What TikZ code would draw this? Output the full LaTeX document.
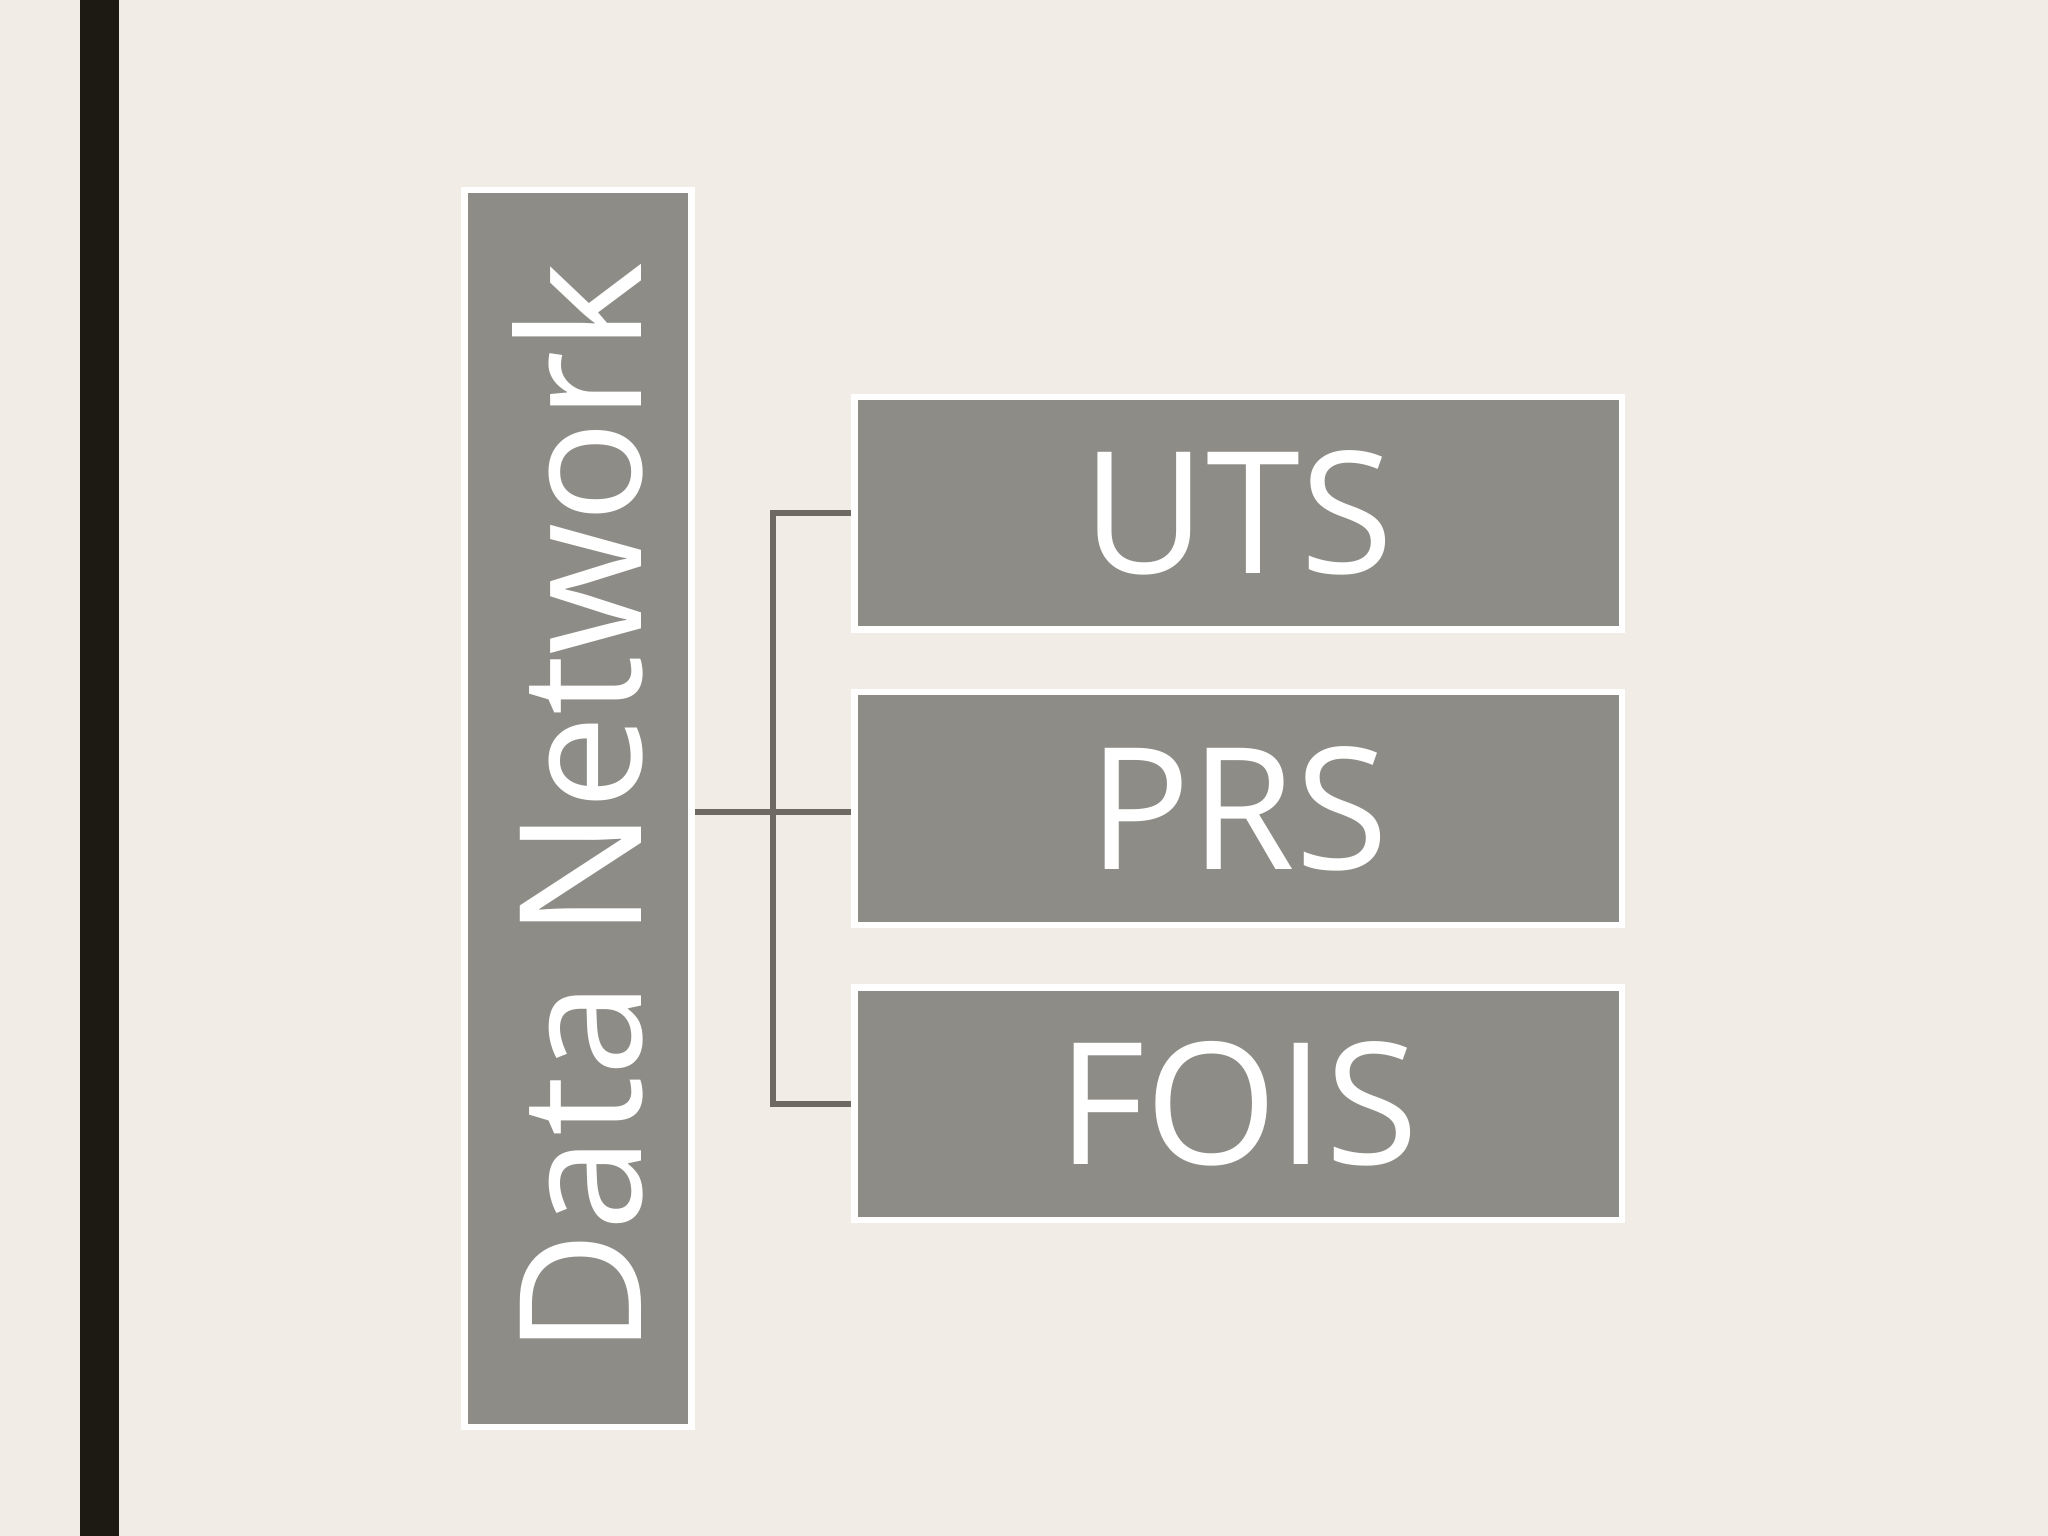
\documentclass[tikz,border=0pt]{standalone}
\usepackage{fontspec}
\setmainfont{Open Sans}
\definecolor{bg}{HTML}{F1ECE5}
\definecolor{bar}{HTML}{1C1A12}
\definecolor{boxg}{HTML}{8E8C86}
\definecolor{lineg}{HTML}{6E6A63}
\begin{document}
\begin{tikzpicture}[x=0.02cm,y=-0.02cm,
  bx/.style={draw=white,line width=2.8pt,fill=boxg,inner sep=0pt,text=white,font=\fontsize{74}{80}\selectfont},
  con/.style={draw=lineg,line width=2.6pt}]
\fill[bg] (0,0) rectangle (1568,1176);
\useasboundingbox (0,0) rectangle (1568,1176);
\fill[bar] (61,0) rectangle (91,1176);
\node[bx,minimum width=174\pgflinewidth,minimum width=3.48cm,minimum height=18.94cm] (dn) at (442.5,619) {\rotatebox{90}{Data Network}};
\node[bx,minimum width=11.76cm,minimum height=3.56cm] (uts) at (948,393) {UTS};
\node[bx,minimum width=11.76cm,minimum height=3.56cm] (prs) at (948,619) {PRS};
\node[bx,minimum width=11.76cm,minimum height=3.56cm] (fois) at (948,845) {FOIS};
\coordinate (j) at (592,622);
\draw[con] (dn.east |- j) -- (j);
\draw[con] (uts.west) -| (j);
\draw[con] (fois.west) -| (j);
\draw[con] (j) -- (prs.west |- j);
\end{tikzpicture}
\end{document}
